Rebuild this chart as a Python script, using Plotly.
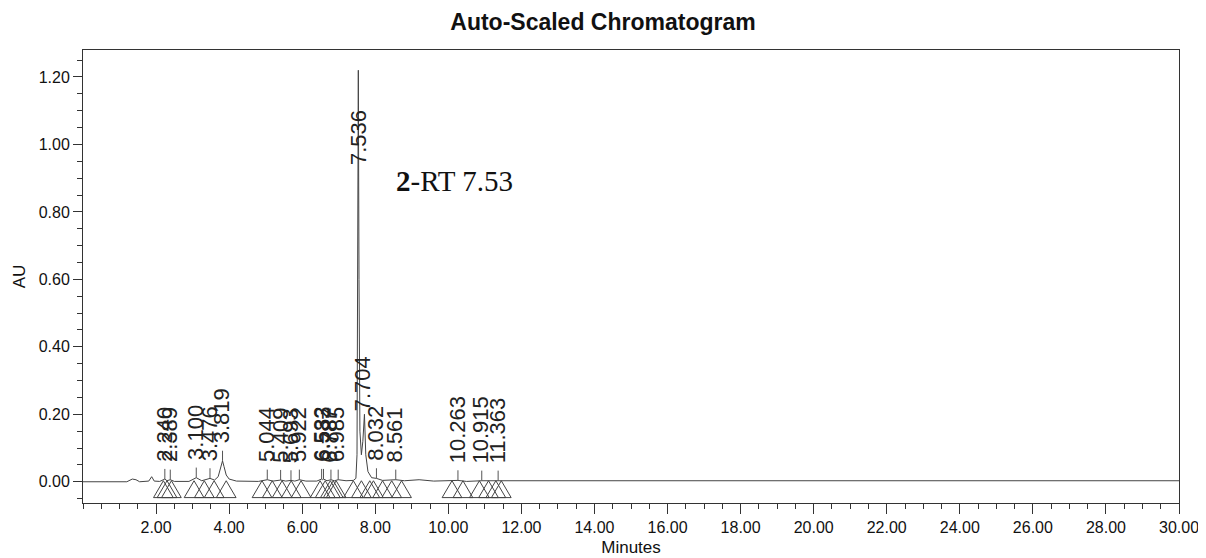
import plotly.graph_objects as go

# ---------------- data ----------------
trace_time = [0.0, 1.20, 1.35, 1.45, 1.55, 1.80, 1.88, 1.95, 2.10, 2.24, 2.30, 2.389, 2.50,
              2.90, 3.10, 3.25, 3.476, 3.60, 3.70, 3.78, 3.819, 3.86, 3.92, 4.00, 4.20,
              4.80, 5.044, 5.20, 5.409, 5.55, 5.693, 5.80, 5.922, 6.10, 6.40, 6.532, 6.56,
              6.583, 6.68, 6.787, 6.88, 6.985, 7.20, 7.40, 7.47, 7.50, 7.52, 7.536, 7.555,
              7.58, 7.62, 7.66, 7.704, 7.74, 7.80, 7.90, 8.032, 8.20, 8.561, 8.80, 9.20,
              9.60, 10.263, 10.50, 10.915, 11.363, 12.00, 20.00, 30.00]
trace_au = [0.000, 0.000, 0.008, 0.006, 0.000, 0.002, 0.015, 0.002, 0.001, 0.008, 0.003, 0.006, 0.001,
            0.001, 0.012, 0.003, 0.010, 0.005, 0.015, 0.045, 0.062, 0.045, 0.020, 0.008, 0.002,
            0.001, 0.006, 0.002, 0.005, 0.002, 0.004, 0.002, 0.006, 0.002, 0.002, 0.008, 0.006,
            0.008, 0.003, 0.006, 0.003, 0.006, 0.003, 0.004, 0.010, 0.080, 0.600, 1.220, 0.600,
            0.150, 0.080, 0.120, 0.200, 0.080, 0.030, 0.012, 0.010, 0.004, 0.006, 0.003, 0.006,
            0.002, 0.004, 0.001, 0.003, 0.003, 0.001, 0.002, 0.003]

peak_rt = [2.240, 2.389, 3.100, 3.476, 3.819, 5.044, 5.409, 5.693, 5.922, 6.532,
           6.583, 6.787, 6.985, 7.536, 7.704, 8.032, 8.561, 10.263, 10.915, 11.363]
peak_height = [0.008, 0.006, 0.012, 0.010, 0.062, 0.006, 0.005, 0.004, 0.006, 0.008,
               0.008, 0.006, 0.006, 1.220, 0.200, 0.010, 0.006, 0.004, 0.003, 0.003]
peak_label = ["2.240", "2.389", "3.100", "3.476", "3.819", "5.044", "5.409", "5.693", "5.922", "6.532",
              "6.583", "6.787", "6.985", "7.536", "7.704", "8.032", "8.561", "10.263", "10.915", "11.363"]

# baseline start / end markers (minutes)
marker_time = [2.20, 2.30, 2.42, 3.04, 3.32, 3.59, 3.92, 4.90, 5.18, 5.45, 5.70, 5.97,
               6.49, 6.63, 6.77, 6.85, 6.93, 7.40, 7.62, 7.85, 7.95, 8.20, 8.45, 8.72,
               10.10, 10.40, 10.85, 11.10, 11.30, 11.45]

x_ticks = [2, 4, 6, 8, 10, 12, 14, 16, 18, 20, 22, 24, 26, 28, 30]
y_ticks = [0.0, 0.2, 0.4, 0.6, 0.8, 1.0, 1.2]

title_text = "Auto-Scaled Chromatogram"
note_text = "<b>2</b>-RT 7.53"

INK = "#333333"
SANS = "Liberation Sans, Arial, sans-serif"

# the page body adds an 8px offset; size the figure to fit inside the window
PAGE_OFF = 8
W, H = 1206 - PAGE_OFF, 558 - PAGE_OFF

fig = go.Figure()

# chromatogram
fig.add_trace(go.Scatter(x=trace_time, y=trace_au, mode="lines",
                         line=dict(color="#444444", width=1), hoverinfo="skip"))

# leader ticks from peak tops to labels
lx, ly = [], []
for t, h in zip(peak_rt, peak_height):
    if h > 0.15:
        continue
    lx += [t, t, None]
    ly += [h, h + 0.03, None]
fig.add_trace(go.Scatter(x=lx, y=ly, mode="lines",
                         line=dict(color="#555555", width=1), hoverinfo="skip"))

# open triangles under the baseline
hw = 0.27
tx, ty = [], []
for t in marker_time:
    tx += [t - hw, t, t + hw, t - hw, None]
    ty += [-0.047, 0.003, -0.047, -0.047, None]
fig.add_trace(go.Scatter(x=tx, y=ty, mode="lines",
                         line=dict(color="#444444", width=1), hoverinfo="skip"))

# peak labels
LBL = dict(family=SANS, size=22, color="#222222")
for t, h, lab in zip(peak_rt, peak_height, peak_label):
    if h > 1.0:
        fig.add_annotation(x=t, y=1.02, text=lab, textangle=-90, showarrow=False,
                           xanchor="center", yanchor="middle", xshift=0, font=LBL)
    elif h > 0.15:
        fig.add_annotation(x=t, y=h + 0.003, text=lab, textangle=-90, showarrow=False,
                           xanchor="center", yanchor="bottom", xshift=-2, font=LBL)
    else:
        fig.add_annotation(x=t, y=h + 0.046, text=lab, textangle=-90, showarrow=False,
                           xanchor="center", yanchor="bottom", xshift=-1, font=LBL)

# "2-RT 7.53" note
fig.add_annotation(x=8.50, y=0.892, text=note_text, showarrow=False,
                   xanchor="left", yanchor="middle",
                   font=dict(family="Liberation Serif, Times New Roman, serif", size=29, color="#111111"))

fig.update_layout(
    width=W, height=H,
    margin=dict(l=83 - PAGE_OFF, r=27, t=50 - PAGE_OFF, b=55, autoexpand=False),
    paper_bgcolor="white", plot_bgcolor="white",
    showlegend=False,
    title=dict(text="<b>" + title_text + "</b>", x=0.5 - PAGE_OFF / 2 / W, xanchor="center",
               yref="container", y=1 - (22 - PAGE_OFF) / H, yanchor="middle",
               font=dict(family=SANS, size=23, color="#111111")),
)

fig.update_xaxes(
    range=[0, 30], showgrid=False, zeroline=False, automargin=False,
    showline=True, mirror=True, linecolor=INK, linewidth=1,
    tickmode="array", tickvals=x_ticks, ticktext=["%.2f" % v for v in x_ticks],
    ticks="outside", ticklen=10, tickcolor=INK, tickwidth=1,
    tickfont=dict(family=SANS, size=16, color="#111111"),
    minor=dict(tickmode="linear", tick0=0, dtick=0.5, ticks="outside", ticklen=5,
               tickcolor=INK, tickwidth=1),
    title=dict(text="Minutes", standoff=5, font=dict(family=SANS, size=17, color="#111111")),
)

fig.update_yaxes(
    range=[-0.063, 1.28], showgrid=False, zeroline=False, automargin=False,
    showline=True, mirror=True, linecolor=INK, linewidth=1,
    tickmode="array", tickvals=y_ticks, ticktext=["%.2f" % v for v in y_ticks],
    ticks="outside", ticklen=9, tickcolor=INK, tickwidth=1,
    tickfont=dict(family=SANS, size=16, color="#111111"),
    minor=dict(tickmode="linear", tick0=0, dtick=0.05, ticks="outside", ticklen=5,
               tickcolor=INK, tickwidth=1),
    title=dict(text="AU", standoff=8, font=dict(family=SANS, size=17, color="#111111")),
)

fig.write_html("out.html")
